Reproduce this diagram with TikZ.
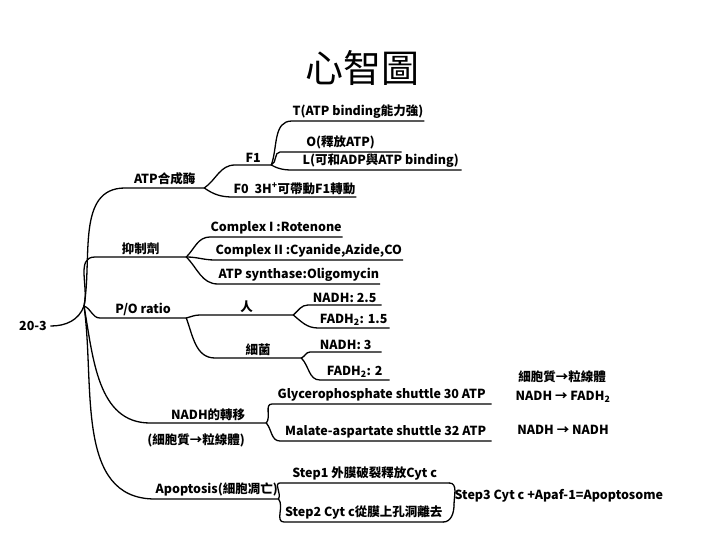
\documentclass[tikz,border=0pt]{standalone}
\usepackage{fontspec}
\setmainfont{Noto Sans CJK TC}
\usetikzlibrary{positioning}

\tikzset{
  twig/.style={anchor=south west, inner xsep=0pt, inner ysep=2pt,
    font=\fontsize{12.5}{14}\selectfont\bfseries},
  note/.style={font=\fontsize{12.5}{14}\selectfont\bfseries},
  branch/.style={line width=1.3pt, line cap=round}
}

\begin{document}
\begin{tikzpicture}[x=1pt, y=-1pt, branch]
  \useasboundingbox (0,0) rectangle (720,540);
  \node (title) at (362,68) {\fontsize{38}{40}\selectfont 心智圖};

  \node (root) [note] at (33,326) {20-3};
  \coordinate (hub) at (84,306);

  % ATP合成酶
  \node (atp) [twig, minimum width=78pt]  at (125,188) {ATP合成酶};
  \node (f1)  [twig, minimum width=35pt]  at (235,165) {F1};
  \node (f0)  [twig, minimum width=118pt] at (233,197) {F0\ \ 3H\textsuperscript{+}可帶動F1轉動};
  \node (tst) [twig, minimum width=110pt] at (292,121) {T(ATP binding能力強)};
  \node (ost) [twig, minimum width=120pt] at (280,152) {O(釋放ATP)};
  \node (lst) [twig, minimum width=160pt] at (300,170) {L(可和ADP與ATP binding)};

  % 抑制劑
  \node (inh) [twig, minimum width=90pt]  at (95,257)  {抑制劑};
  \node (cx1) [twig, minimum width=125pt] at (210,237) {Complex I :Rotenone};
  \node (cx2) [twig, minimum width=172pt] at (215,260) {Complex II :Cyanide,Azide,CO};
  \node (cx3) [twig, minimum width=156pt] at (218,284) {ATP synthase:Oligomycin};

  % P/O ratio
  \node (po)  [twig, minimum width=85pt]  at (100,318) {P/O ratio};
  \node (hum) [twig, minimum width=92pt]  at (200,315) {人};
  \node (bac) [twig, minimum width=85pt]  at (215,358) {細菌};
  \node (n25) [twig, minimum width=72pt]  at (308,305) {NADH: 2.5};
  \node (f15) [twig, minimum width=70pt]  at (318,328) {FADH\textsubscript{2}: 1.5};
  \node (n3)  [twig, minimum width=70pt]  at (310,352) {NADH: 3};
  \node (f2)  [twig, minimum width=68pt]  at (320,380) {FADH\textsubscript{2}: 2};

  % NADH的轉移
  \node (nadh) [twig, minimum width=115pt] at (150,423) {NADH的轉移};
  \node (nadhsub) [note] at (196,440) {(細胞質→粒線體)};
  \node (gly) [twig, minimum width=218pt] at (272,404) {Glycerophosphate shuttle 30 ATP};
  \node (mal) [twig, minimum width=210pt] at (280,441) {Malate-aspartate shuttle 32 ATP};
  \node (cyto) [note] at (562,377) {細胞質→粒線體};
  \node (gly3) [note] at (563,397) {NADH → FADH\textsubscript{2}};
  \node (mal3) [note] at (563,430) {NADH → NADH};

  % Apoptosis
  \node (apo) [twig, minimum width=101pt] at (155,499) {Apoptosis(細胞凋亡)};
  \node (st1) [twig, minimum width=168pt] at (280,483) {Step1 外膜破裂釋放Cyt c};
  \node (st2) [twig, minimum width=158pt] at (284,522) {Step2 Cyt c從膜上孔洞離去};
  \node (st3) [twig, minimum width=200pt] at (454,505) {Step3 Cyt c +Apaf-1=Apoptosome};

  \draw (root.east) to[out=0,in=-110] (hub);
  \foreach \b/\o in {atp/80, inh/75, po/-20, nadh/-80, apo/-82}
    \draw (hub) to[out=\o,in=180] (\b.south west) -- (\b.south east);
  \foreach \a/\b/\o in {atp/f1/35, atp/f0/-35, f1/tst/70, f1/ost/20, f1/lst/-30,
      inh/cx1/45, inh/cx2/0, inh/cx3/-45, po/hum/15, po/bac/-70,
      hum/n25/40, hum/f15/-40, bac/n3/20, bac/f2/-45,
      nadh/gly/50, nadh/mal/-50, apo/st1/60, apo/st2/-50}
    \draw (\a.south east) to[out=\o,in=180] (\b.south west) -- (\b.south east);
  \draw (st1.south east) to[out=0,in=90] (st3.south west);
  \draw (st2.south east) to[out=0,in=-90] (st3.south west);
\end{tikzpicture}
\end{document}
